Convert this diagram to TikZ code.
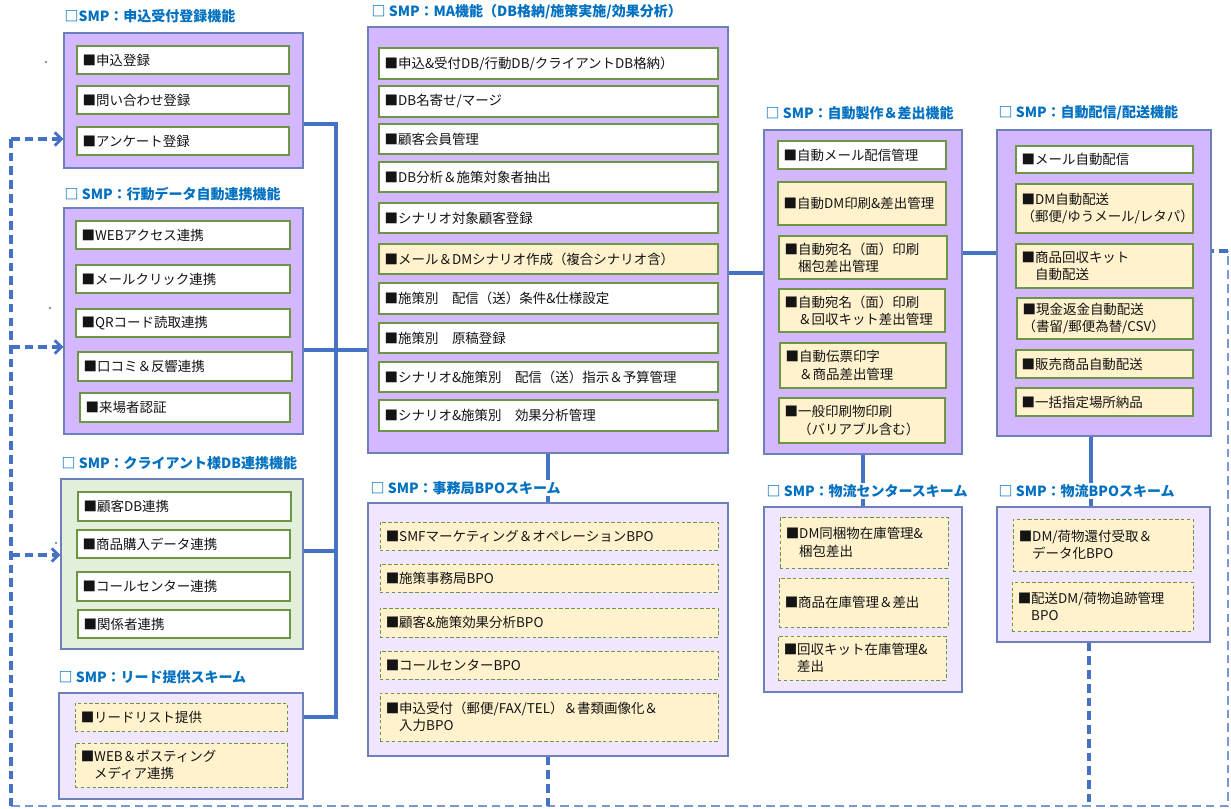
\documentclass[tikz,border=0pt]{standalone}
\usepackage{fontspec}
\setmainfont{Noto Sans CJK JP}
\usetikzlibrary{fit,arrows.meta}
\definecolor{ttl}{RGB}{0,112,192}
\definecolor{pur}{RGB}{212,184,255}
\definecolor{lav}{RGB}{241,230,255}
\definecolor{grn}{RGB}{226,239,218}
\definecolor{ylw}{RGB}{255,242,204}
\definecolor{bord}{RGB}{110,128,185}
\definecolor{ibord}{RGB}{106,150,70}
\definecolor{conn}{RGB}{68,114,196}
\definecolor{conn2}{RGB}{120,152,212}
\definecolor{txt}{RGB}{20,20,20}
\tikzset{
  outer/.style={draw=bord, line width=1.1pt, inner sep=0pt},
  itemw/.style={draw=ibord, fill=white, line width=0.9pt, inner sep=0pt},
  itemy/.style={itemw, fill=ylw},
  itemd/.style={draw=ibord, fill=ylw, dash pattern=on 2.6pt off 1.8pt, line width=0.75pt, inner sep=0pt},
  ttlbox/.style={font=\fontsize{10.5}{12}\selectfont\bfseries, text=ttl, fill=white, inner sep=1pt, anchor=west},
  itxt/.style={font=\fontsize{10.1}{13}\selectfont, text=txt, align=left, inner sep=0pt, anchor=west},
  link/.style={draw=conn, line width=2.4pt},
  dlink/.style={draw=conn, line width=2.7pt, dash pattern=on 6.5pt off 3.8pt},
  dlinkl/.style={draw=conn2, line width=2.2pt, dash pattern=on 6.5pt off 3.8pt},
  arr/.style={-{Straight Barb[length=5pt,width=10pt,line width=2pt]}}
}
\newcommand\mkitem[4]{\node[#2, fit={#3}] (#1) {};
  \node[itxt] (#1t) at ([xshift=4.5pt]#1.west) {#4};}
\begin{document}
\begin{tikzpicture}[x=0.75pt,y=-0.75pt]
\useasboundingbox (0,0) rectangle (1231,809);

% ---------- left column ----------
\node[outer, fill=pur, fit={(64,33) (303,168)}] (b1) {};
\mkitem{a11}{itemw}{(77,46) (289,74)}{■申込登録}
\mkitem{a12}{itemw}{(77,86) (289,114)}{■問い合わせ登録}
\mkitem{a13}{itemw}{(77,127) (289,155)}{■アンケート登録}

\node[outer, fill=pur, fit={(64,208) (303,434)}] (b2) {};
\mkitem{a21}{itemw}{(76,221) (290,249)}{■WEBアクセス連携}
\mkitem{a22}{itemw}{(76,265) (290,293)}{■メールクリック連携}
\mkitem{a23}{itemw}{(76,309) (290,337)}{■QRコード読取連携}
\mkitem{a24}{itemw}{(78,352) (292,381)}{■口コミ＆反響連携}
\mkitem{a25}{itemw}{(80,393) (290,422)}{■来場者認証}

\node[outer, fill=grn, fit={(61,479) (303,649)}] (b3) {};
\mkitem{a31}{itemw}{(78,492) (291,521)}{■顧客DB連携}
\mkitem{a32}{itemw}{(77,530) (290,558)}{■商品購入データ連携}
\mkitem{a33}{itemw}{(77,572) (290,601)}{■コールセンター連携}
\mkitem{a34}{itemw}{(78,610) (290,638)}{■関係者連携}

\node[outer, fill=lav, fit={(59,693) (303,799)}] (b4) {};
\mkitem{a41}{itemd}{(75,703) (287,731)}{■リードリスト提供}
\mkitem{a42}{itemd}{(75,743) (287,787)}{■WEB＆ポスティング\\\phantom{■}メディア連携}

% ---------- MA ----------
\node[outer, fill=pur, fit={(368,27) (728,453)}] (ma) {};
\mkitem{m1}{itemw}{(379,48) (718,79)}{■申込\&受付DB/行動DB/クライアントDB格納）}
\mkitem{m2}{itemw}{(379,86) (718,117)}{■DB名寄せ/マージ}
\mkitem{m3}{itemw}{(379,124) (718,154)}{■顧客会員管理}
\mkitem{m4}{itemw}{(379,162) (718,192)}{■DB分析＆施策対象者抽出}
\mkitem{m5}{itemw}{(379,203) (718,233)}{■シナリオ対象顧客登録}
\mkitem{m6}{itemy}{(379,244) (718,274)}{■メール＆DMシナリオ作成（複合シナリオ含）}
\mkitem{m7}{itemw}{(379,283) (718,314)}{■施策別　配信（送）条件\&仕様設定}
\mkitem{m8}{itemw}{(379,323) (718,353)}{■施策別　原稿登録}
\mkitem{m9}{itemw}{(379,362) (718,392)}{■シナリオ\&施策別　配信（送）指示＆予算管理}
\mkitem{m10}{itemw}{(379,400) (718,431)}{■シナリオ\&施策別　効果分析管理}

% ---------- jimukyoku BPO ----------
\node[outer, fill=lav, fit={(368,503) (728,756)}] (jb) {};
\mkitem{j1}{itemd}{(380,522) (718,550)}{■SMFマーケティング＆オペレーションBPO}
\mkitem{j2}{itemd}{(380,564) (718,592)}{■施策事務局BPO}
\mkitem{j3}{itemd}{(380,608) (718,637)}{■顧客\&施策効果分析BPO}
\mkitem{j4}{itemd}{(380,651) (718,679)}{■コールセンターBPO}
\mkitem{j5}{itemd}{(380,693) (718,741)}{■申込受付（郵便/FAX/TEL）＆書類画像化＆\\\phantom{■}入力BPO}

% ---------- seisaku ----------
\node[outer, fill=pur, fit={(764,130) (962,454)}] (sc) {};
\mkitem{s1}{itemw}{(778,141) (946,169)}{■自動メール配信管理}
\mkitem{s2}{itemy}{(778,182) (946,225)}{■自動DM印刷\&差出管理}
\mkitem{s3}{itemy}{(779,236) (947,279)}{■自動宛名（面）印刷\\\phantom{■}梱包差出管理}
\mkitem{s4}{itemy}{(779,289) (945,332)}{■自動宛名（面）印刷\\\phantom{■}＆回収キット差出管理}
\mkitem{s5}{itemy}{(780,343) (946,388)}{■自動伝票印字\\\phantom{■}＆商品差出管理}
\mkitem{s6}{itemy}{(779,398) (945,443)}{■一般印刷物印刷\\\phantom{■}（バリアブル含む）}

% ---------- haishin ----------
\node[outer, fill=pur, fit={(997,130) (1211,436)}] (ad) {};
\mkitem{d1}{itemw}{(1016,146) (1193,173)}{■メール自動配信}
\mkitem{d2}{itemy}{(1016,184) (1193,233)}{■DM自動配送\\（郵便/ゆうメール/レタパ）}
\mkitem{d3}{itemy}{(1016,244) (1193,288)}{■商品回収キット\\\phantom{■}自動配送}
\mkitem{d4}{itemy}{(1017,298) (1193,339)}{■現金返金自動配送\\（書留/郵便為替/CSV）}
\mkitem{d5}{itemy}{(1016,350) (1193,378)}{■販売商品自動配送}
\mkitem{d6}{itemy}{(1016,388) (1193,416)}{■一括指定場所納品}

% ---------- butsuryu center ----------
\node[outer, fill=lav, fit={(764,507) (962,692)}] (lc) {};
\mkitem{c1}{itemd}{(780,517) (948,568)}{■DM同梱物在庫管理\&\\\phantom{■}梱包差出}
\mkitem{c2}{itemd}{(779,578) (948,627)}{■商品在庫管理＆差出}
\mkitem{c3}{itemd}{(778,636) (946,680)}{■回収キット在庫管理\&\\\phantom{■}差出}

% ---------- butsuryu BPO ----------
\node[outer, fill=lav, fit={(997,507) (1210,642)}] (lb) {};
\mkitem{e1}{itemd}{(1013,519) (1193,571)}{■DM/荷物還付受取＆\\\phantom{■}データ化BPO}
\mkitem{e2}{itemd}{(1012,582) (1193,631)}{■配送DM/荷物追跡管理\\\phantom{■}BPO}

% ---------- solid connectors ----------
\coordinate (j1) at (336,124);
\coordinate (j2) at (336,350);
\coordinate (j3) at (336,551);
\coordinate (j4) at (336,717);
\draw[link] (j1 -| b1.east) -- (j1) -- (j4) -- (j4 -| b4.east);
\draw[link] (j2 -| b2.east) -- (j2 -| ma.west);
\draw[link] (j3 -| b3.east) -- (j3);
\coordinate (k1) at (745,273);
\coordinate (k2) at (980,253);
\coordinate (k4) at (1091,470);
\draw[link] (k1 -| ma.east) -- (k1 -| sc.west);
\draw[link] (k2 -| sc.east) -- (k2 -| ad.west);
\draw[link] (ma.south) -- (jb.north);
\draw[link] (sc.south) -- (lc.north);
\draw[link] (k4 |- ad.south) -- (k4 |- lb.north);

% ---------- dashed connectors ----------
\coordinate (q1) at (11,139);
\coordinate (q2) at (11,347);
\coordinate (q3) at (11,555);
\coordinate (qb) at (11,806);
\coordinate (qr) at (1228,806);
\coordinate (qt) at (1228,251);
\coordinate (qm) at (548,806);
\coordinate (qn) at (1089,806);
\draw[dlinkl] (qb) -- (qr) -- (qt);
\draw[dlink] (qt) -- (qt -| ad.east);
\draw[dlink] (q1) -- (qb);
\draw[dlink, arr] (q1) -- (q1 -| b1.west);
\draw[dlink, arr] (q2) -- (q2 -| b2.west);
\draw[dlink, arr] (q3) -- (q3 -| b3.west);
\draw[dlink] (jb.south) -- (qm);
\draw[dlink] (qn |- lb.south) -- (qn);

% stray dots
\fill[conn] (46,62) circle (0.8pt);
\fill[conn] (50,308) circle (0.8pt);
\fill[conn] (56,543) circle (0.8pt);

% ---------- titles ----------
\node[ttlbox] (t1) at (63,16) {□SMP：申込受付登録機能};
\node[ttlbox] (t2) at (63,194) {□ SMP：行動データ自動連携機能};
\node[ttlbox] (t3) at (60,463) {□ SMP：クライアント様DB連携機能};
\node[ttlbox] (t4) at (57,677) {□ SMP：リード提供スキーム};
\node[ttlbox] (t5) at (370,12) {□ SMP：MA機能（DB格納/施策実施/効果分析）};
\node[ttlbox] (t6) at (369,488) {□ SMP：事務局BPOスキーム};
\node[ttlbox] (t7) at (764,113) {□ SMP：自動製作＆差出機能};
\node[ttlbox] (t8) at (997,113) {□ SMP：自動配信/配送機能};
\node[ttlbox] (t9) at (765,491) {□ SMP：物流センタースキーム};
\node[ttlbox] (t10) at (997,491) {□ SMP：物流BPOスキーム};
\end{tikzpicture}
\end{document}
